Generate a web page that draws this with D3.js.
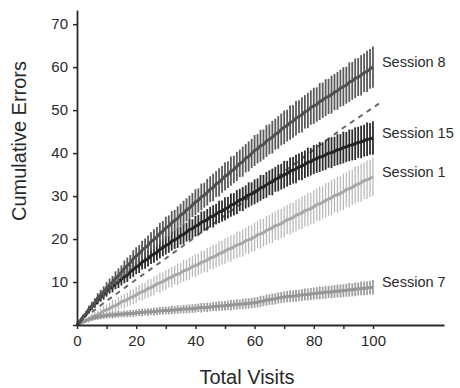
<!DOCTYPE html>
<html>
<head>
<meta charset="utf-8">
<script src="https://cdn.jsdelivr.net/npm/d3@7"></script>
<style>
    html, body { margin: 0; padding: 0; background: #fff; }
    svg { display: block; font-family: Arial, "Liberation Sans", sans-serif; }
</style>
</head>
<body>
<div id="chart"></div>
<script>
// Visits 0..100, cumulative error means and SEM per session
const visits = d3.range(0, 101);

const session8 = [0,
    0.9, 1.9, 2.6, 3.7, 4.5, 5.2, 6.3, 7.0, 7.7, 8.6,
    9.3, 10.0, 10.9, 11.5, 12.3, 13.2, 13.8, 14.5, 15.4, 16.0,
    16.6, 17.4, 18.0, 18.5, 19.4, 19.9, 20.5, 21.3, 21.8, 22.6,
    23.0, 23.8, 24.3, 24.8, 25.6, 26.0, 26.8, 27.2, 27.9, 28.6,
    29.0, 29.8, 30.2, 30.9, 31.6, 32.0, 32.8, 33.2, 33.9, 34.6,
    35.0, 35.8, 36.2, 36.9, 37.6, 38.0, 38.8, 39.2, 39.9, 40.6,
    41.0, 41.7, 42.0, 42.8, 43.2, 43.7, 44.4, 44.8, 45.5, 46.0,
    46.4, 47.1, 47.4, 48.1, 48.5, 48.9, 49.6, 49.9, 50.6, 51.0,
    51.3, 52.0, 52.3, 52.9, 53.2, 53.6, 54.2, 54.5, 55.1, 55.5,
    55.8, 56.5, 56.8, 57.4, 57.7, 58.1, 58.7, 59.0, 59.6, 60.0];
const session8Sem = [0,
    0.3, 0.5, 0.6, 0.8, 0.9, 1.0, 1.1, 1.2, 1.3, 1.4,
    1.5, 1.4, 1.6, 1.7, 1.6, 1.8, 1.9, 1.8, 2.0, 2.1,
    2.0, 2.2, 2.1, 2.3, 2.2, 2.4, 2.3, 2.5, 2.4, 2.6,
    2.5, 2.7, 2.5, 2.8, 2.6, 2.9, 2.7, 2.9, 2.8, 3.0,
    2.8, 3.1, 2.9, 3.1, 3.0, 3.2, 3.0, 3.3, 3.1, 3.3,
    3.1, 3.4, 3.2, 3.4, 3.2, 3.5, 3.3, 3.5, 3.4, 3.6,
    3.4, 3.7, 3.5, 3.7, 3.5, 3.8, 3.6, 3.8, 3.7, 3.9,
    3.7, 4.0, 3.8, 4.0, 3.8, 4.1, 3.9, 4.1, 4.0, 4.2,
    4.0, 4.3, 4.1, 4.3, 4.1, 4.4, 4.2, 4.4, 4.3, 4.5,
    4.3, 4.6, 4.4, 4.6, 4.4, 4.7, 4.5, 4.8, 4.6, 4.8];

const session15 = [0,
    0.8, 1.7, 2.4, 3.3, 4.2, 4.8, 5.7, 6.4, 7.0, 7.8,
    8.5, 8.9, 9.6, 10.0, 10.7, 11.2, 11.6, 12.4, 12.9, 13.5,
    13.9, 14.6, 15.0, 15.4, 16.1, 16.5, 16.9, 17.6, 18.0, 18.5,
    18.8, 19.5, 19.8, 20.2, 20.8, 21.1, 21.6, 22.2, 22.4, 23.0,
    23.3, 23.9, 24.2, 24.5, 25.1, 25.3, 25.8, 26.3, 26.5, 27.0,
    27.3, 27.9, 28.1, 28.6, 29.1, 29.3, 29.8, 30.3, 30.5, 31.0,
    31.3, 31.9, 32.1, 32.6, 33.1, 33.3, 33.9, 34.2, 34.5, 35.0,
    35.2, 35.8, 36.0, 36.3, 36.8, 37.0, 37.4, 37.9, 38.0, 38.5,
    38.7, 39.1, 39.2, 39.6, 40.0, 40.1, 40.4, 40.8, 40.9, 41.3,
    41.4, 41.8, 41.9, 42.2, 42.5, 42.6, 42.9, 43.2, 43.3, 43.5];
const session15Sem = [0,
    0.3, 0.4, 0.5, 0.6, 0.7, 0.8, 0.9, 1.0, 1.1, 1.2,
    1.2, 1.3, 1.3, 1.4, 1.5, 1.5, 1.6, 1.6, 1.7, 1.7,
    1.8, 1.7, 1.9, 1.8, 1.9, 2.0, 1.9, 2.1, 2.0, 2.1,
    2.0, 2.2, 2.1, 2.3, 2.1, 2.3, 2.2, 2.4, 2.2, 2.4,
    2.3, 2.5, 2.3, 2.5, 2.4, 2.6, 2.4, 2.6, 2.5, 2.7,
    2.5, 2.7, 2.6, 2.8, 2.6, 2.8, 2.7, 2.9, 2.7, 2.9,
    2.8, 3.0, 2.8, 3.0, 2.9, 3.1, 2.9, 3.1, 3.0, 3.2,
    3.0, 3.2, 3.1, 3.3, 3.1, 3.3, 3.2, 3.4, 3.2, 3.4,
    3.3, 3.5, 3.3, 3.5, 3.4, 3.6, 3.4, 3.6, 3.5, 3.7,
    3.5, 3.7, 3.6, 3.8, 3.6, 3.8, 3.7, 3.9, 3.7, 3.9];

const session1 = [0,
    0.4, 0.8, 1.1, 1.3, 1.8, 2.2, 2.4, 2.8, 3.3, 3.5,
    3.8, 4.3, 4.5, 4.9, 5.4, 5.6, 5.9, 6.4, 6.6, 7.0,
    7.5, 7.7, 8.0, 8.5, 8.7, 9.1, 9.6, 9.8, 10.1, 10.5,
    10.9, 11.1, 11.6, 11.8, 12.1, 12.6, 12.8, 13.1, 13.6, 13.8,
    14.1, 14.6, 14.8, 15.1, 15.6, 15.8, 16.1, 16.6, 16.8, 17.2,
    17.6, 17.8, 18.2, 18.6, 18.8, 19.1, 19.6, 19.8, 20.1, 20.5,
    21.0, 21.2, 21.5, 22.0, 22.3, 22.6, 23.1, 23.3, 23.6, 24.0,
    24.5, 24.7, 25.0, 25.5, 25.8, 26.1, 26.6, 26.8, 27.1, 27.5,
    28.0, 28.2, 28.5, 29.0, 29.3, 29.6, 30.1, 30.3, 30.6, 31.0,
    31.5, 31.7, 32.0, 32.5, 32.8, 33.1, 33.6, 33.8, 34.1, 34.5];
const session1Sem = [0,
    0.3, 0.5, 0.6, 0.7, 0.8, 0.9, 1.0, 1.1, 1.2, 1.3,
    1.3, 1.5, 1.4, 1.6, 1.5, 1.7, 1.6, 1.8, 1.7, 1.9,
    1.8, 2.0, 1.9, 2.1, 2.0, 2.2, 2.0, 2.3, 2.1, 2.3,
    2.2, 2.4, 2.2, 2.5, 2.3, 2.5, 2.4, 2.6, 2.4, 2.7,
    2.5, 2.7, 2.6, 2.8, 2.6, 2.9, 2.7, 2.9, 2.8, 3.0,
    2.8, 3.1, 2.9, 3.1, 3.0, 3.2, 3.0, 3.3, 3.1, 3.3,
    3.1, 3.4, 3.2, 3.4, 3.3, 3.5, 3.3, 3.6, 3.4, 3.6,
    3.4, 3.7, 3.5, 3.7, 3.6, 3.8, 3.6, 3.9, 3.7, 3.9,
    3.7, 4.0, 3.8, 4.0, 3.9, 4.1, 3.9, 4.2, 4.0, 4.2,
    4.0, 4.3, 4.1, 4.3, 4.2, 4.4, 4.2, 4.5, 4.3, 4.5];

const session7 = [0,
    0.4, 0.7, 1.0, 1.3, 1.5, 1.7, 1.8, 2.0, 2.1, 2.2,
    2.3, 2.3, 2.4, 2.5, 2.5, 2.6, 2.6, 2.7, 2.7, 2.8,
    2.9, 2.9, 3.0, 3.0, 3.1, 3.1, 3.2, 3.3, 3.3, 3.4,
    3.4, 3.5, 3.5, 3.6, 3.6, 3.7, 3.7, 3.8, 3.8, 3.9,
    4.0, 4.0, 4.1, 4.1, 4.2, 4.3, 4.3, 4.4, 4.4, 4.5,
    4.6, 4.6, 4.7, 4.8, 4.8, 4.9, 5.0, 5.0, 5.1, 5.2,
    5.3, 5.5, 5.6, 5.8, 5.9, 6.0, 6.1, 6.3, 6.4, 6.5,
    6.6, 6.7, 6.7, 6.8, 6.9, 7.0, 7.1, 7.1, 7.2, 7.3,
    7.4, 7.5, 7.5, 7.6, 7.7, 7.7, 7.8, 7.9, 7.9, 8.0,
    8.1, 8.2, 8.2, 8.3, 8.4, 8.5, 8.5, 8.6, 8.7, 8.8];
const session7Sem = [0,
    0.3, 0.4, 0.5, 0.5, 0.6, 0.6, 0.6, 0.7, 0.7, 0.7,
    0.7, 0.8, 0.7, 0.8, 0.7, 0.8, 0.8, 0.8, 0.8, 0.8,
    0.8, 0.9, 0.8, 0.9, 0.8, 0.9, 0.9, 0.9, 0.9, 0.9,
    0.9, 1.0, 0.9, 1.0, 0.9, 1.0, 1.0, 1.0, 1.0, 1.0,
    1.0, 1.1, 1.0, 1.1, 1.0, 1.1, 1.1, 1.1, 1.1, 1.1,
    1.1, 1.2, 1.1, 1.2, 1.1, 1.2, 1.2, 1.2, 1.2, 1.2,
    1.2, 1.3, 1.2, 1.3, 1.2, 1.3, 1.3, 1.3, 1.3, 1.3,
    1.3, 1.4, 1.3, 1.4, 1.3, 1.4, 1.4, 1.4, 1.4, 1.4,
    1.4, 1.5, 1.4, 1.5, 1.4, 1.5, 1.5, 1.5, 1.5, 1.5,
    1.5, 1.6, 1.5, 1.6, 1.5, 1.6, 1.6, 1.6, 1.6, 1.7];

// dashed reference line
const chanceVisits = [5, 10, 20, 30, 40, 50, 60, 70, 80, 90, 102];
const chanceValues = [3.0, 5.6, 10.6, 15.5, 20.5, 25.5, 30.6, 35.7, 40.8, 45.9, 51.5];

const xTicks = [0, 10, 20, 30, 40, 50, 60, 70, 80, 90, 100];
const yTicks = [0, 10, 20, 30, 40, 50, 60, 70];

const series = [
    { name: 'Session 1', mean: session1, sem: session1Sem, line: '#a8a8a8', bar: '#bababa', barWidth: 1.3 },
    { name: 'Session 7', mean: session7, sem: session7Sem, line: '#959595', bar: '#9f9f9f', barWidth: 1.8 },
    { name: 'Session 15', mean: session15, sem: session15Sem, line: '#252525', bar: '#2e2e2e', barWidth: 1.8 },
    { name: 'Session 8', mean: session8, sem: session8Sem, line: '#505050', bar: '#5a5a5a', barWidth: 1.8 }
];

const width = 460, height = 388;

const svg = d3.select('#chart')
    .append('svg')
    .attr('width', width)
    .attr('height', height);

const x = d3.scaleLinear().domain([0, 124]).range([77, 444]);
const y = d3.scaleLinear().domain([0, 73.3]).range([325, 10]);

const axisColor = '#2a2a2a';

// series: error bars then mean line
series.forEach((s, i) => {
    const g = svg.append('g');
    g.selectAll('line')
        .data(visits.slice(1))
        .join('line')
        .attr('x1', v => x(v))
        .attr('x2', v => x(v))
        .attr('y1', v => y(s.mean[v] - s.sem[v]))
        .attr('y2', v => y(s.mean[v] + s.sem[v]))
        .attr('stroke', s.bar)
        .attr('stroke-width', s.barWidth);

    const line = d3.line()
        .x(v => x(v))
        .y(v => y(s.mean[v]));

    g.append('path')
        .datum(visits)
        .attr('fill', 'none')
        .attr('stroke', s.line)
        .attr('stroke-width', 3)
        .attr('d', line);

    if (i === 1) {
        // dashed line sits above the two light sessions
        svg.append('path')
            .datum(chanceVisits.map((v, k) => [v, chanceValues[k]]))
            .attr('fill', 'none')
            .attr('stroke', '#6a6a6a')
            .attr('stroke-width', 2)
            .attr('stroke-dasharray', '5,5')
            .attr('d', d3.line().x(d => x(d[0])).y(d => y(d[1])));
    }
});

// session labels at the end of each curve
svg.selectAll('.session-label')
    .data(series)
    .join('text')
    .attr('class', 'session-label')
    .attr('x', x(100) + 9)
    .attr('y', s => y(s.mean[100]) - 4)
    .attr('dominant-baseline', 'middle')
    .attr('font-size', 14.5)
    .attr('fill', '#2a2a2a')
    .text(s => s.name);

// axes
const xAxis = svg.append('g')
    .attr('transform', `translate(0,${y(0)})`)
    .call(d3.axisBottom(x).tickValues(xTicks)
        .tickFormat(d => d % 20 === 0 ? d : '')
        .tickSize(4).tickSizeOuter(0).tickPadding(6));

const yAxis = svg.append('g')
    .attr('transform', `translate(${x(0)},0)`)
    .call(d3.axisLeft(y).tickValues(yTicks)
        .tickFormat(d => d === 0 ? '' : d)
        .tickSize(4).tickSizeOuter(0).tickPadding(5));

[xAxis, yAxis].forEach(a => {
    a.select('.domain').attr('stroke', axisColor).attr('stroke-width', 1.8);
    a.selectAll('.tick line').attr('stroke', axisColor).attr('stroke-width', 1.5);
    a.selectAll('.tick text')
        .attr('fill', axisColor)
        .attr('font-size', 15)
        .attr('font-family', 'Arial, "Liberation Sans", sans-serif');
});

svg.append('text')
    .attr('x', 247)
    .attr('y', 384)
    .attr('text-anchor', 'middle')
    .attr('font-size', 20)
    .attr('fill', axisColor)
    .text('Total Visits');

svg.append('text')
    .attr('transform', `translate(26,141) rotate(-90)`)
    .attr('text-anchor', 'middle')
    .attr('font-size', 20)
    .attr('fill', axisColor)
    .text('Cumulative Errors');
</script>
</body>
</html>
